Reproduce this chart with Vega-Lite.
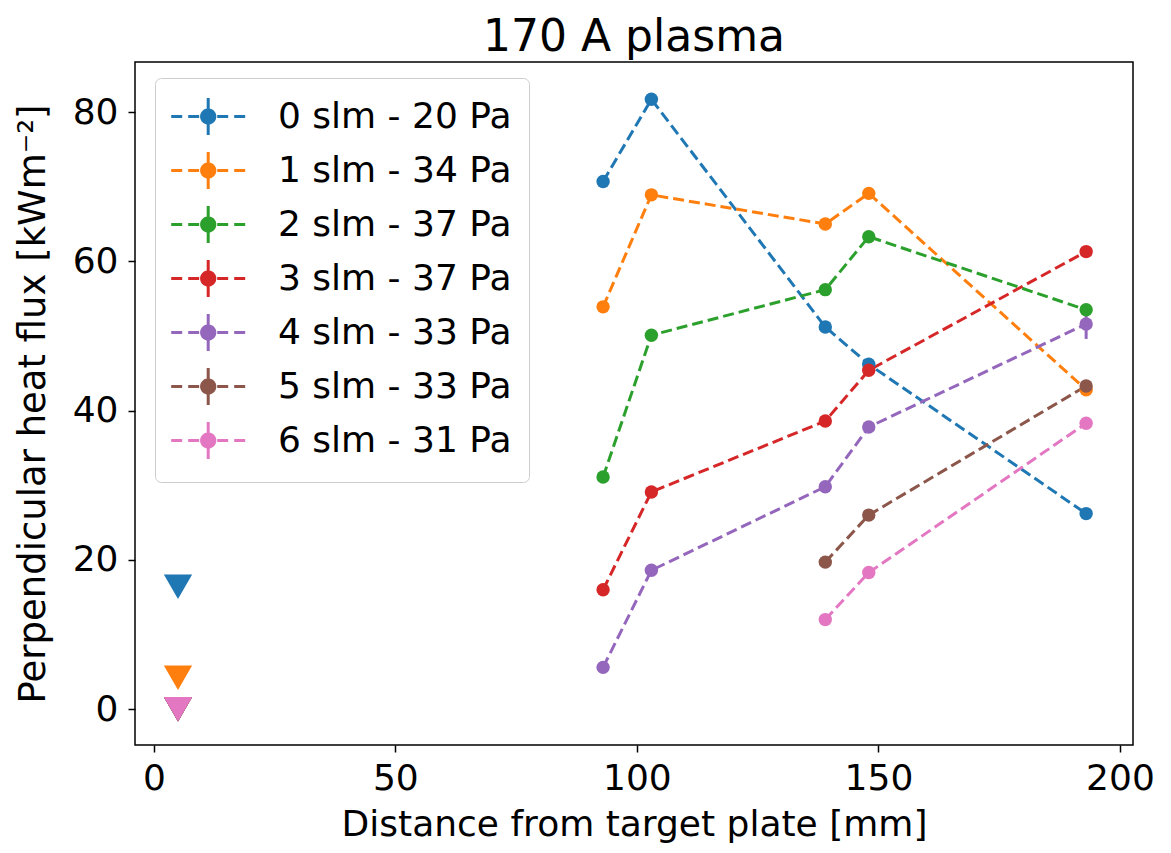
{
  "$schema": "https://vega.github.io/schema/vega-lite/v6.json",
  "width": 998,
  "height": 683,
  "autosize": "none",
  "padding": {"left": 135, "top": 62, "right": 38, "bottom": 108},
  "background": "white",
  "config": {
    "font": "DejaVu Sans",
    "view": {"stroke": "black", "strokeWidth": 1.5},
    "axis": {
      "grid": false,
      "domain": false,
      "tickSize": 7,
      "tickWidth": 1.5,
      "tickColor": "black",
      "labelFontSize": 36,
      "labelColor": "black",
      "titleFontSize": 36,
      "titleFontWeight": "normal",
      "titleColor": "black"
    }
  },
  "title": {"text": "170 A plasma", "fontSize": 44, "fontWeight": "normal", "color": "black", "offset": 2},
  "datasets": {
    "pts": [
      {"s": "0 slm - 20 Pa", "x": 93, "y": 70.7},
      {"s": "0 slm - 20 Pa", "x": 103, "y": 81.7},
      {"s": "0 slm - 20 Pa", "x": 139, "y": 51.2},
      {"s": "0 slm - 20 Pa", "x": 148, "y": 46.2},
      {"s": "0 slm - 20 Pa", "x": 193, "y": 26.2},
      {"s": "1 slm - 34 Pa", "x": 93, "y": 53.9},
      {"s": "1 slm - 34 Pa", "x": 103, "y": 68.9},
      {"s": "1 slm - 34 Pa", "x": 139, "y": 65.0},
      {"s": "1 slm - 34 Pa", "x": 148, "y": 69.1},
      {"s": "1 slm - 34 Pa", "x": 193, "y": 42.8},
      {"s": "2 slm - 37 Pa", "x": 93, "y": 31.1},
      {"s": "2 slm - 37 Pa", "x": 103, "y": 50.1},
      {"s": "2 slm - 37 Pa", "x": 139, "y": 56.2},
      {"s": "2 slm - 37 Pa", "x": 148, "y": 63.3},
      {"s": "2 slm - 37 Pa", "x": 193, "y": 53.5},
      {"s": "3 slm - 37 Pa", "x": 93, "y": 16.0},
      {"s": "3 slm - 37 Pa", "x": 103, "y": 29.1},
      {"s": "3 slm - 37 Pa", "x": 139, "y": 38.6},
      {"s": "3 slm - 37 Pa", "x": 148, "y": 45.4},
      {"s": "3 slm - 37 Pa", "x": 193, "y": 61.3},
      {"s": "4 slm - 33 Pa", "x": 93, "y": 5.6},
      {"s": "4 slm - 33 Pa", "x": 103, "y": 18.6},
      {"s": "4 slm - 33 Pa", "x": 139, "y": 29.8},
      {"s": "4 slm - 33 Pa", "x": 148, "y": 37.8},
      {"s": "4 slm - 33 Pa", "x": 193, "y": 51.6},
      {"s": "5 slm - 33 Pa", "x": 139, "y": 19.7},
      {"s": "5 slm - 33 Pa", "x": 148, "y": 26.0},
      {"s": "5 slm - 33 Pa", "x": 193, "y": 43.3},
      {"s": "6 slm - 31 Pa", "x": 139, "y": 12.0},
      {"s": "6 slm - 31 Pa", "x": 148, "y": 18.3},
      {"s": "6 slm - 31 Pa", "x": 193, "y": 38.3}
    ],
    "err": [
      {"s": "4 slm - 33 Pa", "x": 193, "lo": 49.6, "hi": 53.6}
    ],
    "tri": [
      {"s": "0 slm - 20 Pa", "x": 5, "y": 16.4},
      {"s": "1 slm - 34 Pa", "x": 5, "y": 4.2},
      {"s": "2 slm - 37 Pa", "x": 5, "y": 0},
      {"s": "3 slm - 37 Pa", "x": 5, "y": 0},
      {"s": "4 slm - 33 Pa", "x": 5, "y": 0},
      {"s": "5 slm - 33 Pa", "x": 5, "y": 0},
      {"s": "6 slm - 31 Pa", "x": 5, "y": 0}
    ]
  },
  "layer": [
    {
      "data": {"name": "pts"},
      "mark": {"type": "line", "strokeDash": [11, 5], "strokeWidth": 3},
      "encoding": {
        "x": {"field": "x", "type": "quantitative", "scale": {"domain": [-3.9, 202.7], "nice": false, "zero": false},
              "axis": {"title": "Distance from target plate [mm]", "values": [0, 50, 100, 150, 200], "labelPadding": 9, "titlePadding": 11}},
        "y": {"field": "y", "type": "quantitative", "scale": {"domain": [-4.8, 86.7], "nice": false, "zero": false},
              "axis": {"title": "Perpendicular heat flux [kWm⁻²]", "values": [0, 20, 40, 60, 80], "labelPadding": 10, "titlePadding": 20, "titleFontSize": 37}},
        "color": {
          "field": "s", "type": "nominal",
          "scale": {
            "domain": ["0 slm - 20 Pa", "1 slm - 34 Pa", "2 slm - 37 Pa", "3 slm - 37 Pa", "4 slm - 33 Pa", "5 slm - 33 Pa", "6 slm - 31 Pa"],
            "range": ["#1f77b4", "#ff7f0e", "#2ca02c", "#d62728", "#9467bd", "#8c564b", "#e377c2"]
          },
          "legend": {
            "title": null,
            "orient": "none",
            "legendX": 20,
            "legendY": 16,
            "padding": 17,
            "rowPadding": 5,
            "fillColor": "white",
            "strokeColor": "#cccccc",
            "cornerRadius": 6,
            "symbolType": "M-1.115,0H-0.565M-0.265,0H0.285M1.185,0H1.735M2.035,0H2.585M0.735,-0.925V0.925M0.405,0A0.33,0.33 0 1,0 1.065,0A0.33,0.33 0 1,0 0.405,0Z",
            "symbolSize": 1600,
            "symbolStrokeWidth": 3,
            "labelFontSize": 36,
            "labelColor": "black",
            "labelOffset": 63,
            "labelLimit": 500,
            "encode": {
              "symbols": {
                "update": {
                  "fill": {"scale": "color", "field": "value"},
                  "stroke": {"scale": "color", "field": "value"},
                  "strokeDash": {"value": [1, 0]},
                  "opacity": {"value": 1},
                  "fillOpacity": {"value": 1},
                  "strokeOpacity": {"value": 1}
                }
              }
            }
          }
        }
      }
    },
    {
      "data": {"name": "err"},
      "mark": {"type": "rule", "strokeWidth": 3},
      "encoding": {
        "x": {"field": "x", "type": "quantitative"},
        "y": {"field": "lo", "type": "quantitative"},
        "y2": {"field": "hi"},
        "color": {"field": "s", "type": "nominal", "legend": null}
      }
    },
    {
      "data": {"name": "pts"},
      "mark": {"type": "point", "filled": true, "size": 180, "opacity": 1},
      "encoding": {
        "x": {"field": "x", "type": "quantitative"},
        "y": {"field": "y", "type": "quantitative"},
        "color": {"field": "s", "type": "nominal", "legend": null}
      }
    },
    {
      "data": {"name": "tri"},
      "mark": {"type": "point", "shape": "triangle-down", "filled": true, "size": 800, "opacity": 1},
      "encoding": {
        "x": {"field": "x", "type": "quantitative"},
        "y": {"field": "y", "type": "quantitative"},
        "color": {"field": "s", "type": "nominal", "legend": null}
      }
    }
  ]
}
